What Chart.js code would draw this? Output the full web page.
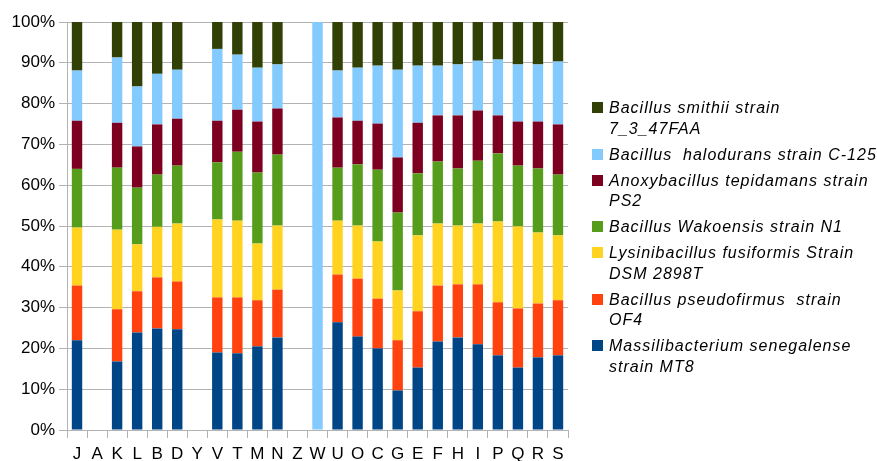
<!DOCTYPE html>
<html>
<head>
<meta charset="utf-8">
<script src="https://cdn.jsdelivr.net/npm/chart.js@4"></script>
<style>
  html, body { margin: 0; padding: 0; background: #fff; }
  #wrap { position: relative; width: 877px; height: 461px; }
  #legend {
    position: absolute; left: 592px; top: 98px;
    font-family: "Liberation Sans", Arial, sans-serif; font-style: italic;
    font-size: 16px; line-height: 20.5px; color: #000; letter-spacing: 1px;
  }
  .item { position: relative; padding-left: 17px; margin-bottom: 5.5px; white-space: pre; }
  .box { position: absolute; left: 0; top: 4px; width: 11px; height: 11px; }
</style>
</head>
<body>
<div id="wrap">
  <canvas id="chart" width="877" height="461"></canvas>
  <div id="legend"></div>
</div>
<script>
const categories = ['J','A','K','L','B','D','Y','V','T','M','N','Z','W','U','O','C','G','E','F','H','I','P','Q','R','S'];

// percent of each strain per sample (null = no bar)
const massilibacterium = [22.0, null, 16.8, 23.9, 24.9, 24.7, null, 19.0, 18.8, 20.5, 22.7, null, null, 26.4, 22.9, 20.0, 9.7, 15.3, 21.7, 22.7, 21.0, 18.3, 15.3, 17.8, 18.3];
const pseudofirmus = [13.4, null, 12.8, 10.1, 12.5, 11.7, null, 13.5, 13.7, 11.3, 11.7, null, null, 11.7, 14.2, 12.2, 12.3, 13.8, 13.7, 13.0, 14.7, 13.0, 14.5, 13.2, 13.5];
const lysinibacillus = [14.2, null, 19.5, 11.5, 12.4, 14.2, null, 19.1, 18.8, 13.9, 15.7, null, null, 13.2, 13.0, 14.0, 12.2, 18.6, 15.2, 14.4, 14.9, 19.8, 20.1, 17.4, 15.9];
const wakoensis = [14.4, null, 15.2, 13.9, 12.8, 14.2, null, 14.0, 16.9, 17.4, 17.4, null, null, 13.0, 15.0, 17.6, 19.1, 15.2, 15.2, 14.0, 15.4, 16.7, 14.9, 15.7, 14.9];
const anoxybacillus = [11.8, null, 11.0, 10.1, 12.3, 11.5, null, 10.2, 10.3, 12.5, 11.3, null, null, 12.3, 10.7, 11.3, 13.5, 12.4, 11.3, 13.0, 12.3, 9.3, 10.8, 11.5, 12.3];
const halodurans = [12.3, null, 16.0, 14.7, 12.4, 12.0, null, 17.6, 13.5, 13.2, 10.8, null, 100, 11.5, 13.0, 14.2, 21.5, 14.0, 12.2, 12.5, 12.2, 13.7, 14.0, 14.0, 15.4];
const smithii = [11.9, null, 8.7, 15.8, 12.7, 11.7, null, 6.6, 8.0, 11.2, 10.4, null, null, 11.9, 11.2, 10.7, 11.7, 10.7, 10.7, 10.4, 9.5, 9.2, 10.4, 10.4, 9.7];

const yTicks = [0, 10, 20, 30, 40, 50, 60, 70, 80, 90, 100];

const series = [
  { label: 'Massilibacterium senegalense\nstrain MT8', data: massilibacterium, color: '#004586' },
  { label: 'Bacillus pseudofirmus  strain\nOF4', data: pseudofirmus, color: '#ff420e' },
  { label: 'Lysinibacillus fusiformis Strain\nDSM 2898T', data: lysinibacillus, color: '#ffd320' },
  { label: 'Bacillus Wakoensis strain N1', data: wakoensis, color: '#579d1c' },
  { label: 'Anoxybacillus tepidamans strain\nPS2', data: anoxybacillus, color: '#7e0021' },
  { label: 'Bacillus  halodurans strain C-125', data: halodurans, color: '#83caff' },
  { label: 'Bacillus smithii strain\n7_3_47FAA', data: smithii, color: '#314004' }
];

const gridColor = '#b3b3b3';
const font = { family: '"Liberation Sans", Arial, sans-serif', size: 17 };

new Chart(document.getElementById('chart'), {
  type: 'bar',
  data: {
    labels: categories,
    datasets: series.map(s => ({
      label: s.label,
      data: s.data,
      backgroundColor: s.color,
      borderWidth: 0,
      categoryPercentage: 1,
      barPercentage: 0.52
    }))
  },
  options: {
    responsive: false,
    animation: false,
    devicePixelRatio: 1,
    layout: { padding: { left: 0, right: 309, top: 22, bottom: 0 } },
    plugins: { legend: { display: false }, tooltip: { enabled: false } },
    scales: {
      x: {
        stacked: true,
        grid: {
          offset: true,
          color: ctx => ctx.index === categories.length ? gridColor : 'rgba(0,0,0,0)',
          tickColor: gridColor,
          tickLength: 8
        },
        border: { color: gridColor },
        ticks: { color: '#000', font: font, padding: 6, maxRotation: 0, autoSkip: false },
        afterFit: scale => { scale.height = 31; }
      },
      y: {
        stacked: true,
        min: 0,
        max: 100,
        afterBuildTicks: scale => { scale.ticks = yTicks.map(v => ({ value: v })); },
        grid: { color: gridColor, tickColor: gridColor, tickLength: 8 },
        border: { color: gridColor },
        ticks: { color: '#000', font: font, padding: 4, callback: v => v + '%' },
        afterFit: scale => { scale.width = 67; }
      }
    }
  }
});

// legend, top entry = last series
const legend = document.getElementById('legend');
series.slice().reverse().forEach(s => {
  const item = document.createElement('div');
  item.className = 'item';
  const box = document.createElement('span');
  box.className = 'box';
  box.style.background = s.color;
  item.appendChild(box);
  item.appendChild(document.createTextNode(s.label));
  legend.appendChild(item);
});
</script>
</body>
</html>
